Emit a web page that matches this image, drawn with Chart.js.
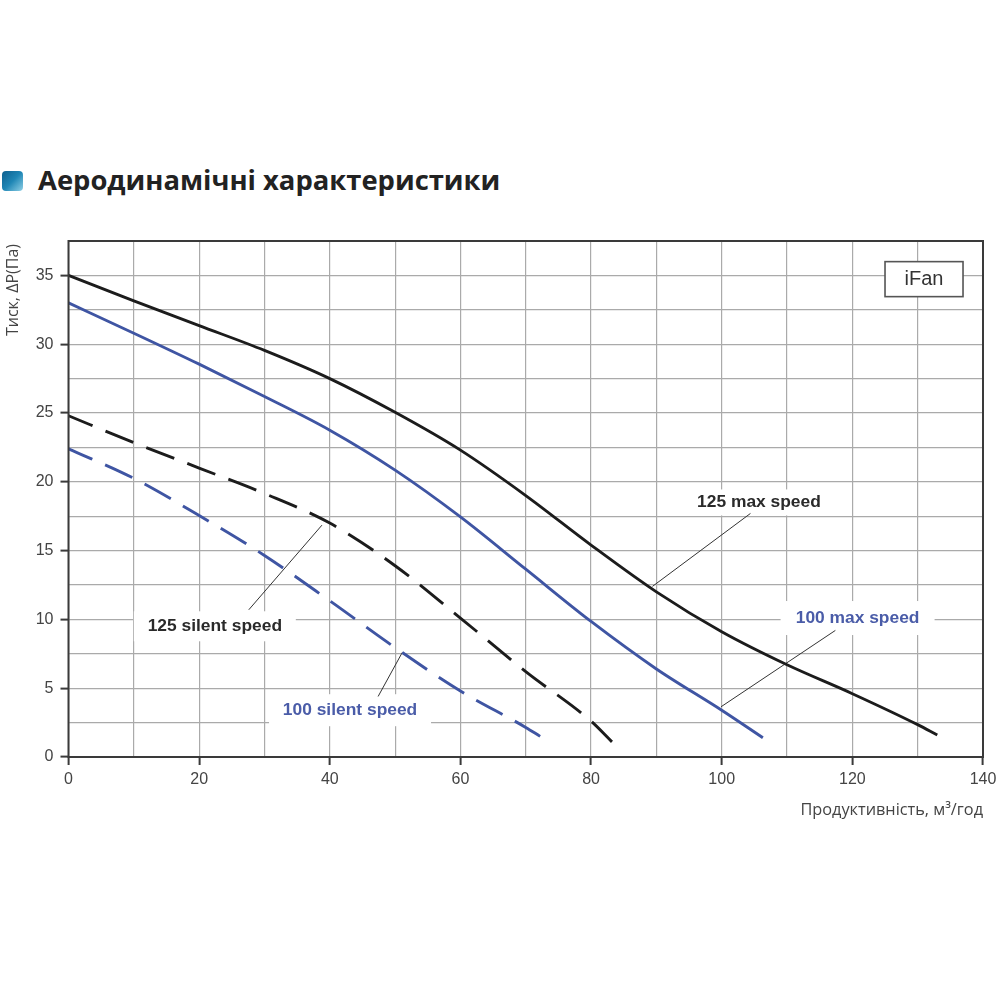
<!DOCTYPE html>
<html lang="uk">
<head>
<meta charset="utf-8">
<title>Аеродинамічні характеристики</title>
<script src="https://cdn.jsdelivr.net/npm/chart.js@4/dist/chart.umd.min.js"></script>
<style>
  html, body { margin:0; padding:0; background:#fff; }
  #wrap { position:relative; width:1000px; height:1000px; overflow:hidden; }
  #cv { position:absolute; left:0; top:0; }
  #icon { position:absolute; left:2px; top:171px; width:21px; height:20px; border-radius:4px;
    background:linear-gradient(135deg,#0d5f8e 0%,#1f86b5 50%,#8fd0e6 100%); }
  #title { position:absolute; left:38px; top:161px; font:bold 27.4px "Open Sans",sans-serif; color:#222; white-space:nowrap; line-height:38px; }
</style>
</head>
<body>
<div id="wrap">
  <div id="icon"></div>
  <div id="title">Аеродинамічні характеристики</div>
  <canvas id="cv" width="1000" height="1000"></canvas>
</div>
<script>
  // --------------------------
  // Data
  // --------------------------
  const max125X = [0,10,20,30,40,50,60,70,80,90,100,110,120,130,133];
  const max125Y = [35,33.15,31.35,29.55,27.5,25.05,22.3,19,15.4,12,9.1,6.7,4.6,2.35,1.6];
  const max100X = [0,10,20,30,40,50,60,70,80,90,100,106.3];
  const max100Y = [33,30.8,28.55,26.2,23.75,20.85,17.45,13.65,9.85,6.4,3.4,1.4];
  const silent125X = [0,10,20,30,40,50,60,70,80,83.2];
  const silent125Y = [24.8,22.85,21,19.15,17,13.9,10.1,6.2,2.6,1.1];
  const silent100X = [0,10,20,30,40,50,60,70,72.2];
  const silent100Y = [22.4,20.25,17.55,14.65,11.35,7.95,4.8,2.15,1.5];

  const leaderMax125 = [[89.4,12.4],[104.4,17.7]];
  const leaderMax100 = [[99.9,3.65],[117.4,9.2]];
  const leaderSilent125 = [[38.8,16.85],[27.6,10.7]];
  const leaderSilent100 = [[51.1,7.6],[47.4,4.4]];

  const BLACK = '#1c1c1c', BLUE = '#3f55a3', GRID = '#aaaaaa', AXIS = '#3a3a3a';
  const TICK_FONT = '"Liberation Sans",Arial,sans-serif';

  // label: text, centre in data units, white patch size in px
  const notes = [
    {text:'125 max speed',    x:105.7, y:18.5, w:140, h:26, color:'#2a2a2a'},
    {text:'100 max speed',    x:120.8, y:10.1, w:154, h:34, color:'#4a5ca8'},
    {text:'125 silent speed', x:22.4,  y:9.5,  w:162, h:30, color:'#2a2a2a'},
    {text:'100 silent speed', x:43.1,  y:3.4,  w:162, h:32, color:'#4a5ca8'}
  ];

  const zip = (xs, ys) => xs.map((x,i)=>({x, y:ys[i]}));
  const pts = a => a.map(p=>({x:p[0], y:p[1]}));

  const curve = (data, color, dash) => ({
    data, borderColor:color, borderWidth:2.9, borderDash:dash||[], borderDashOffset:dash?4:0, pointRadius:0,
    showLine:true, fill:false, cubicInterpolationMode:'monotone', borderCapStyle:'butt'
  });
  const leader = data => ({
    data:pts(data), borderColor:'#333', borderWidth:1, pointRadius:0, showLine:true, fill:false
  });

  // white patches under the curves, labels and frame on top
  const decor = {
    id:'decor',
    beforeDatasetsDraw(chart){
      const {ctx, scales:{x, y}} = chart;
      ctx.save();
      ctx.fillStyle = '#fff';
      notes.forEach(n=>{
        ctx.fillRect(x.getPixelForValue(n.x)-n.w/2, y.getPixelForValue(n.y)-n.h/2, n.w, n.h);
      });
      ctx.restore();
    },
    afterDatasetsDraw(chart){
      const {ctx, chartArea:a, scales:{x, y}} = chart;
      ctx.save();
      // frame
      ctx.strokeStyle = AXIS; ctx.lineWidth = 2;
      ctx.strokeRect(a.left, a.top, a.right-a.left, a.bottom-a.top);
      // labels
      ctx.font = 'bold 17.4px '+TICK_FONT;
      ctx.textAlign = 'center'; ctx.textBaseline = 'middle';
      notes.forEach(n=>{
        ctx.fillStyle = n.color;
        ctx.fillText(n.text, x.getPixelForValue(n.x), y.getPixelForValue(n.y));
      });
      // iFan box
      const bx = x.getPixelForValue(125), by = y.getPixelForValue(36);
      ctx.fillStyle = '#fff'; ctx.strokeStyle = '#555'; ctx.lineWidth = 1.6;
      ctx.fillRect(bx, by, 78, 35); ctx.strokeRect(bx, by, 78, 35);
      ctx.fillStyle = '#333'; ctx.font = '20px '+TICK_FONT;
      ctx.fillText('iFan', bx+39, by+18);
      // axis titles
      ctx.fillStyle = '#444'; ctx.font = '16.3px "Open Sans",sans-serif';
      ctx.textAlign = 'right';
      ctx.fillText('Продуктивність, м³/год', a.right, 810);
      ctx.font = '16px "Open Sans",sans-serif';
      ctx.translate(13, a.top+3);
      ctx.rotate(-Math.PI/2);
      ctx.fillText('Тиск, ΔP(Па)', 0, 0);
      ctx.restore();
    }
  };

  new Chart(document.getElementById('cv'), {
    type:'scatter',
    data:{
      datasets:[
        curve(zip(max125X,max125Y), BLACK),
        curve(zip(max100X,max100Y), BLUE),
        curve(zip(silent125X,silent125Y), BLACK, [30,14]),
        curve(zip(silent100X,silent100Y), BLUE, [30,14]),
        leader(leaderMax125), leader(leaderMax100), leader(leaderSilent125), leader(leaderSilent100)
      ]
    },
    options:{
      responsive:false, animation:false,
      layout:{padding:{top:241, right:17, left:0, bottom:0}},
      plugins:{legend:{display:false}, tooltip:{enabled:false}, title:{display:false}},
      scales:{
        x:{
          type:'linear', min:0, max:140,
          afterFit(s){ s.height = 243; s.paddingRight = 0; },
          border:{display:false},
          grid:{color:GRID, lineWidth:1.2, tickLength:8, tickColor:c=>c.tick.value%20===0?AXIS:'transparent', tickWidth:2},
          ticks:{stepSize:10, maxRotation:0, autoSkip:false, padding:5, color:'#444', font:{family:TICK_FONT,size:16},
            callback:v=>v%20===0?String(v):''}
        },
        y:{
          type:'linear', min:0, max:37.5,
          afterFit(s){ s.width = 68.5; },
          border:{display:false},
          grid:{color:GRID, lineWidth:1.2, tickLength:8, tickColor:c=>c.tick.value%5===0?AXIS:'transparent', tickWidth:2},
          ticks:{stepSize:2.5, autoSkip:false, padding:7, color:'#444', font:{family:TICK_FONT,size:16},
            callback:v=>v%5===0?String(v):''}
        }
      }
    },
    plugins:[decor]
  });
</script>
</body>
</html>
